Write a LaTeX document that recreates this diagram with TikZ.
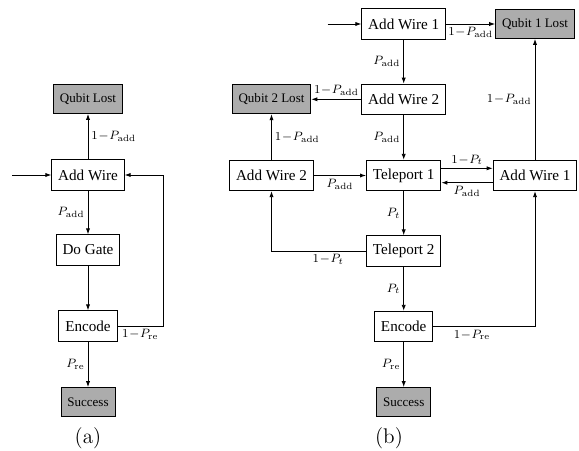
\documentclass[tikz,border=0pt]{standalone}
\usepackage{fontspec}
\newfontfamily\boxfont{Liberation Serif}
\usetikzlibrary{arrows.meta}

\begin{document}
\begin{tikzpicture}[x=0.66pt,y=-0.66pt,
  >={Latex[length=4pt,width=2.8pt]},
  state/.style={draw,fill=white,line width=0.6pt,minimum height=20pt,inner xsep=4.2pt,font=\boxfont\fontsize{10}{12}\selectfont},
  final/.style={state,fill=gray!65,minimum height=19pt,font=\boxfont\fontsize{8.6}{10}\selectfont},
  prob/.style={font=\footnotesize,inner sep=2pt},
  flow/.style={->,line width=0.6pt},
  sublabel/.style={font=\fontsize{14}{16}\selectfont}]

\useasboundingbox (0,0) rectangle (579,450);

% (a)
\node[final] (qlA) at (88,99) {Qubit Lost};
\node[state] (awA) at (88,175) {Add Wire};
\node[state] (dgA) at (88,250) {Do Gate};
\node[state] (encA) at (88,326) {Encode};
\node[final] (sucA) at (88,402) {Success};
\coordinate (inA) at (12,175);
\coordinate (fbA) at (163,326);
\node[sublabel] (capA) at (88,438) {(a)};

\draw[flow] (inA) -- (awA);
\draw[flow] (awA) -- node[prob,right]{$1\!-\!P_{\mathrm{add}}$} (qlA);
\draw[flow] (awA) -- node[prob,left]{$P_{\mathrm{add}}$} (dgA);
\draw[flow] (dgA) -- (encA);
\draw[flow] (encA) -- node[prob,below]{$1\!-\!P_{\mathrm{re}}$} (fbA) |- (awA);
\draw[flow] (encA) -- node[prob,left]{$P_{\mathrm{re}}$} (sucA);

% (b)
\node[state] (aw1T) at (403.7,24) {Add Wire 1};
\node[final] (q1L) at (535,24) {Qubit 1 Lost};
\node[state] (aw2T) at (403.7,99.3) {Add Wire 2};
\node[final] (q2L) at (271.5,99.3) {Qubit 2 Lost};
\node[state] (aw2L) at (271.5,175.5) {Add Wire 2};
\node[state] (tp1) at (403.7,175.5) {Teleport 1};
\node[state] (aw1R) at (535,175.5) {Add Wire 1};
\node[state] (tp2) at (403.7,251) {Teleport 2};
\node[state] (encB) at (403.7,326.5) {Encode};
\node[final] (sucB) at (403.7,402) {Success};
\coordinate (inB) at (327.7,24);
\node[sublabel] (capB) at (389,438) {(b)};

\draw[flow] (inB) -- (aw1T);
\draw[flow] (aw1T) -- node[prob,below]{$1\!-\!P_{\mathrm{add}}$} (q1L);
\draw[flow] (aw1T) -- node[prob,left]{$P_{\mathrm{add}}$} (aw2T);
\draw[flow] (aw2T) -- node[prob,above]{$1\!-\!P_{\mathrm{add}}$} (q2L);
\draw[flow] (aw2T) -- node[prob,left]{$P_{\mathrm{add}}$} (tp1);
\draw[flow] (aw2L) -- node[prob,right]{$1\!-\!P_{\mathrm{add}}$} (q2L);
\draw[flow] (aw2L) -- node[prob,below]{$P_{\mathrm{add}}$} (tp1);
\draw[flow] (aw1R) -- node[prob,left]{$1\!-\!P_{\mathrm{add}}$} (q1L);
\draw[flow] ([yshift=4.75pt]tp1.east) -- node[prob,above]{$1\!-\!P_t$} ([yshift=4.75pt]aw1R.west);
\draw[flow] ([yshift=-4.75pt]aw1R.west) -- node[prob,below]{$P_{\mathrm{add}}$} ([yshift=-4.75pt]tp1.east);
\draw[flow] (tp1) -- node[prob,left]{$P_t$} (tp2);
\draw[flow] (tp2) -| node[prob,pos=.2,below]{$1\!-\!P_t$} (aw2L);
\draw[flow] (tp2) -- node[prob,left]{$P_t$} (encB);
\draw[flow] (encB) -| node[prob,pos=.19,below]{$1\!-\!P_{\mathrm{re}}$} (aw1R);
\draw[flow] (encB) -- node[prob,left]{$P_{\mathrm{re}}$} (sucB);
\end{tikzpicture}
\end{document}
